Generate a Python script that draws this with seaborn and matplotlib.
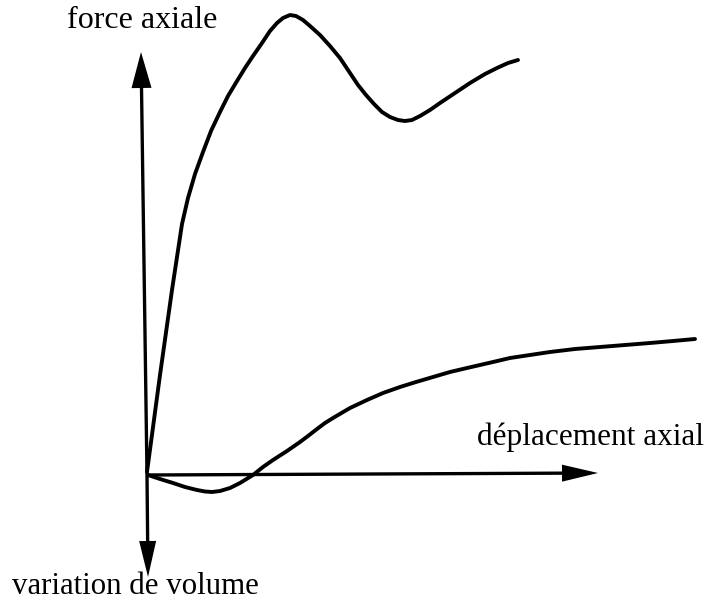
import matplotlib
matplotlib.use("Agg")
import matplotlib.pyplot as plt
import seaborn as sns
import pandas as pd
from matplotlib.patches import Polygon

sns.set_theme(style="white")
plt.rcParams["font.family"] = ["Liberation Serif", "DejaVu Serif"]

# Schematic curves (drawing units, y grows downward)
force_x = [147, 160, 172, 182, 188, 195, 203, 211, 220, 228, 237, 245, 253, 262,
           270, 277, 283, 290, 296, 303, 310, 320, 330, 340, 350, 358, 366, 374,
           382, 390, 398, 405, 412, 420, 430, 440, 455, 470, 485, 497, 508, 518]
force_y = [472, 375, 290, 224, 198, 174, 152, 131, 112, 96, 81, 68, 56, 43,
           31, 23, 18, 15, 16, 20, 26, 35, 46, 58, 73, 85, 95, 104,
           112, 117, 120, 121, 120, 116, 110, 103, 93, 83, 74, 68, 63, 60]

volume_x = [148, 160, 173, 185, 197, 205, 212, 220, 230, 240, 253, 263, 273,
            287, 300, 308, 317, 325, 333, 350, 367, 383, 400, 416, 433, 450,
            467, 480, 493, 510, 530, 550, 575, 600, 625, 650, 673, 695]
volume_y = [475, 479, 483, 487, 490, 491.5, 492, 491, 488, 483, 475, 467, 460,
            451, 442, 436, 429, 423, 418, 408, 400, 393, 387, 382, 377, 372,
            368, 365, 362, 358, 355, 352, 349, 347, 345, 343, 341, 339]

# Axis labels
label_force = "force axiale"
label_disp = "déplacement axial"
label_vol = "variation de volume"

# Axis arrows: (tail, tip)
axis_up = ((147, 475), (141, 52))
axis_down = ((147, 475), (148, 577))
axis_right = ((147, 475), (598, 473))

fig = plt.figure(figsize=(7.07, 6.01), dpi=100)
ax = fig.add_axes([0, 0, 1, 1])
ax.set_xlim(0, 707)
ax.set_ylim(601, 0)
ax.axis("off")

df_force = pd.DataFrame({"x": force_x, "y": force_y})
df_vol = pd.DataFrame({"x": volume_x, "y": volume_y})
sns.lineplot(data=df_force, x="x", y="y", sort=False, color="black", lw=2.8,
             ax=ax, solid_capstyle="round", solid_joinstyle="round")
sns.lineplot(data=df_vol, x="x", y="y", sort=False, color="black", lw=2.8,
             ax=ax, solid_capstyle="round", solid_joinstyle="round")


def arrow(tail, tip, head_len=36, head_w=20):
    (x0, y0), (x1, y1) = tail, tip
    dx, dy = x1 - x0, y1 - y0
    L = (dx ** 2 + dy ** 2) ** 0.5
    ux, uy = dx / L, dy / L
    px, py = -uy, ux
    bx, by = x1 - ux * head_len, y1 - uy * head_len
    ax.plot([x0, bx], [y0, by], color="black", lw=2.4, solid_capstyle="butt")
    tri = [(x1, y1),
           (bx + px * head_w / 2, by + py * head_w / 2),
           (bx - px * head_w / 2, by - py * head_w / 2)]
    ax.add_patch(Polygon(tri, closed=True, color="black", lw=0))


arrow(*axis_up)
arrow(*axis_down, head_len=36, head_w=17)
arrow(*axis_right, head_len=36, head_w=17)

ax.text(67, 28, label_force, fontsize=23, ha="left", va="baseline", color="black")
ax.text(477, 445, label_disp, fontsize=22.5, ha="left", va="baseline", color="black")
ax.text(12, 594, label_vol, fontsize=22.2, ha="left", va="baseline", color="black")

fig.savefig("out.png", dpi=100, facecolor="white")
